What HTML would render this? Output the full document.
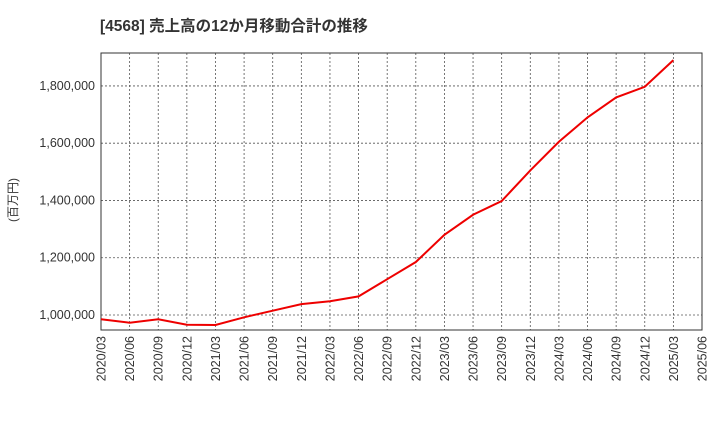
<!DOCTYPE html>
<html><head><meta charset="utf-8"><style>
body{margin:0;background:#fff;font-family:"Liberation Sans","Noto Sans CJK JP",sans-serif;}
</style></head><body>
<svg width="720" height="440" xmlns="http://www.w3.org/2000/svg" id="c">
<text x="100" y="31" font-size="15.5" font-weight="bold" fill="#333">[4568]  売上高の12か月移動合計の推移</text>
<text x="17" y="200" font-size="12" fill="#333" transform="rotate(-90 17 200)" text-anchor="middle">(百万円)</text>
<g id="grid"></g><g id="axes"></g><g id="series"></g>
</svg>
<script>
const categories=["2020/03","2020/06","2020/09","2020/12","2021/03","2021/06","2021/09","2021/12","2022/03","2022/06","2022/09","2022/12","2023/03","2023/06","2023/09","2023/12","2024/03","2024/06","2024/09","2024/12","2025/03","2025/06"];
const sales=[985000,973000,985000,966000,965000,992000,1015000,1038000,1048000,1065000,1125000,1185000,1280000,1350000,1398000,1505000,1605000,1690000,1760000,1797000,1890000];
const yTicks=[1000000,1200000,1400000,1600000,1800000];
const yTickLabels=["1,000,000","1,200,000","1,400,000","1,600,000","1,800,000"];
const L=101,R=702,T=53,B=330,yMin=947600,yMax=1915000;
const NS="http://www.w3.org/2000/svg";
const xS=i=>L+(R-L)*i/(categories.length-1);
const yS=v=>B-(v-yMin)/(yMax-yMin)*(B-T);
function mk(t,a,p){const e=document.createElementNS(NS,t);for(const k in a)e.setAttribute(k,a[k]);p.appendChild(e);return e;}
const g=document.getElementById('grid'),ax=document.getElementById('axes'),s=document.getElementById('series');
categories.forEach((c,i)=>{
 const x=xS(i);
 const l=mk('line',{x1:x,x2:x,y1:T,y2:B,stroke:'#555','stroke-width':0.8,'stroke-dasharray':'2,2'},g);
 
 
 const t=mk('text',{x:0,y:0,'font-size':12.5,fill:'#333','text-anchor':'end',transform:`translate(${x+4.5},${B+6}) rotate(-90)`},ax);
 t.textContent=c;
 
 
});
yTicks.forEach((v,i)=>{
 const y=yS(v);
 const l=mk('line',{x1:L,x2:R,y1:y,y2:y,stroke:'#555','stroke-width':0.8,'stroke-dasharray':'2,2'},g);
 
 
 const t=mk('text',{x:L-6,y:y+4,'font-size':12.5,fill:'#333','text-anchor':'end'},ax);
 t.textContent=yTickLabels[i];
 
 
});
const f=mk('rect',{x:L,y:T,width:R-L,height:B-T,fill:'none',stroke:'#333','stroke-width':1},ax);


const p=mk('polyline',{points:sales.map((v,i)=>xS(i)+','+yS(v)).join(' '),fill:'none',stroke:'#e00','stroke-width':2},s);


</script>
</body></html>
